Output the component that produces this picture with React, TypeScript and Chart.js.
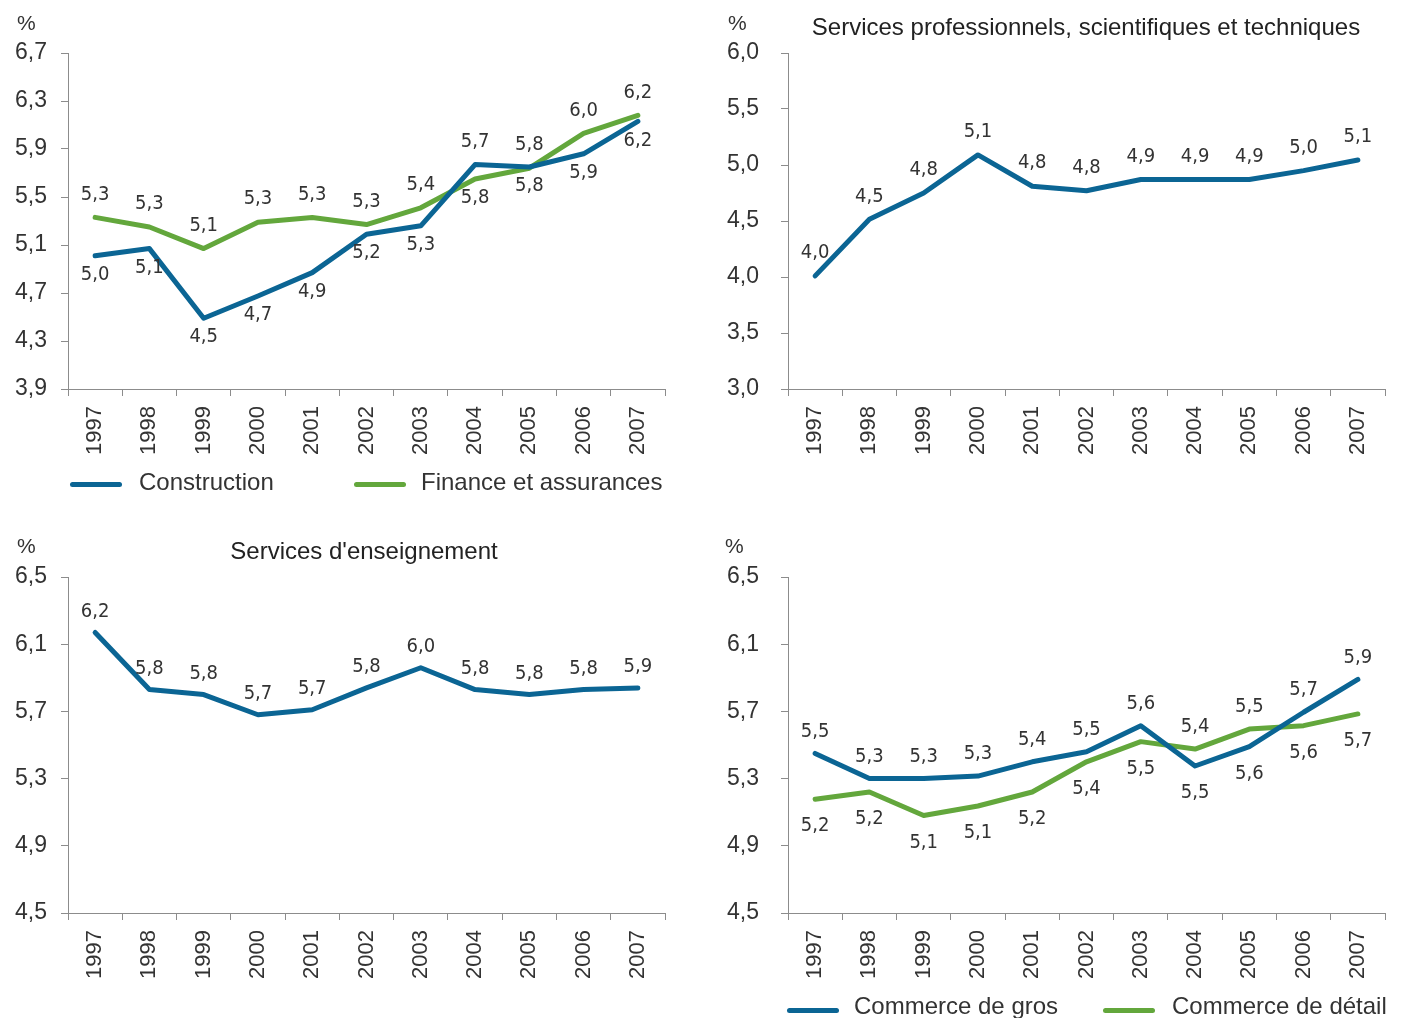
import React, { useEffect, useRef } from "react";
import { Chart, registerables } from "chart.js";

Chart.register(...registerables);

// ---------- DATA ----------
const years = ["1997", "1998", "1999", "2000", "2001", "2002", "2003", "2004", "2005", "2006", "2007"];

// Panel 1 : Construction / Finance et assurances
const constructionValues = [5.01, 5.07, 4.49, 4.675, 4.87, 5.19, 5.26, 5.77, 5.75, 5.86, 6.13];
const constructionLabels = ["5,0", "5,1", "4,5", "4,7", "4,9", "5,2", "5,3", "5,7", "5,8", "5,9", "6,2"];
const constructionPlacement = ["b", "b", "b", "b", "b", "b", "b", "a", "b", "b", "b"];
const financeValues = [5.33, 5.25, 5.07, 5.29, 5.33, 5.27, 5.41, 5.65, 5.74, 6.03, 6.18];
const financeLabels = ["5,3", "5,3", "5,1", "5,3", "5,3", "5,3", "5,4", "5,8", "5,8", "6,0", "6,2"];
const financePlacement = ["a", "a", "a", "a", "a", "a", "a", "b", "a", "a", "a"];
const ticksPanel1 = [3.9, 4.3, 4.7, 5.1, 5.5, 5.9, 6.3, 6.7];

// Panel 2 : Services professionnels, scientifiques et techniques
const proValues = [4.01, 4.515, 4.75, 5.09, 4.81, 4.77, 4.87, 4.87, 4.87, 4.95, 5.045];
const proLabels = ["4,0", "4,5", "4,8", "5,1", "4,8", "4,8", "4,9", "4,9", "4,9", "5,0", "5,1"];
const ticksPanel2 = [3.0, 3.5, 4.0, 4.5, 5.0, 5.5, 6.0];

// Panel 3 : Services d'enseignement
const educValues = [6.17, 5.83, 5.8, 5.68, 5.71, 5.84, 5.96, 5.83, 5.8, 5.83, 5.84];
const educLabels = ["6,2", "5,8", "5,8", "5,7", "5,7", "5,8", "6,0", "5,8", "5,8", "5,8", "5,9"];
const ticksPanel3 = [4.5, 4.9, 5.3, 5.7, 6.1, 6.5];

// Panel 4 : Commerce de gros / Commerce de détail
const grosValues = [5.45, 5.3, 5.3, 5.315, 5.4, 5.46, 5.615, 5.375, 5.49, 5.695, 5.89];
const grosLabels = ["5,5", "5,3", "5,3", "5,3", "5,4", "5,5", "5,6", "5,5", "5,6", "5,7", "5,9"];
const grosPlacement = ["a", "a", "a", "a", "a", "a", "a", "b", "b", "a", "a"];
const detailValues = [5.177, 5.22, 5.08, 5.137, 5.22, 5.4, 5.52, 5.476, 5.595, 5.615, 5.685];
const detailLabels = ["5,2", "5,2", "5,1", "5,1", "5,2", "5,4", "5,5", "5,4", "5,5", "5,6", "5,7"];
const detailPlacement = ["b", "b", "b", "b", "b", "b", "b", "a", "a", "b", "b"];
const ticksPanel4 = [4.5, 4.9, 5.3, 5.7, 6.1, 6.5];

// ---------- STYLE ----------
const BLUE = "#0b6594";
const GREEN = "#63a73c";
const AXIS = "#8c8c8c";
const TEXT = "#333333";
const FONT = '"Liberation Sans", Arial, Helvetica, sans-serif';
const NARROW = '"Liberation Sans Narrow", "DejaVu Sans Condensed", "Liberation Sans", sans-serif';

const valueLabelPlugin = {
  id: "valueLabels",
  afterDatasetsDraw(chart: any, _args: any, opts: any) {
    const ctx = chart.ctx;
    ctx.save();
    ctx.font = opts.font;
    ctx.fillStyle = opts.color;
    ctx.textAlign = "center";
    ctx.textBaseline = "middle";
    chart.data.datasets.forEach((ds: any, i: number) => {
      const meta = chart.getDatasetMeta(i);
      meta.data.forEach((pt: any, j: number) => {
        const txt = ds.labelTexts ? ds.labelTexts[j] : null;
        if (!txt) return;
        const pos = ds.labelPos ? ds.labelPos[j] : "a";
        const dy = pos === "a" ? -opts.above : opts.below;
        ctx.fillText(txt, pt.x, pt.y + dy);
      });
    });
    ctx.restore();
  },
};

const fmt = (v: number) => v.toFixed(1).replace(".", ",");

function series(values: number[], color: string, texts: string[], placement?: string[]) {
  return {
    data: values,
    borderColor: color,
    backgroundColor: color,
    borderWidth: 5,
    pointRadius: 0,
    tension: 0,
    borderCapStyle: "round",
    borderJoinStyle: "round",
    labelTexts: texts,
    labelPos: placement,
  };
}

const PAD_TOP = 40;

function makeConfig(p: any) {
  return {
    type: "line",
    data: { labels: years, datasets: p.datasets },
    options: {
      animation: false,
      responsive: false,
      layout: { padding: { top: PAD_TOP, right: p.padRight, left: 0, bottom: 0 } },
      plugins: {
        legend: { display: false },
        tooltip: { enabled: false },
        valueLabels: {
          above: p.above,
          below: p.below,
          font: "20px " + NARROW,
          color: TEXT,
        },
      },
      scales: {
        x: {
          type: "category",
          offset: true,
          grid: {
            offset: true,
            drawOnChartArea: false,
            drawTicks: true,
            tickLength: 7,
            color: AXIS,
            lineWidth: 1,
          },
          border: { display: true, color: AXIS, width: 1 },
          ticks: {
            autoSkip: false,
            minRotation: 90,
            maxRotation: 90,
            padding: 10,
            color: TEXT,
            font: { family: FONT, size: 22 },
          },
          afterFit: (s: any) => {
            s.height = p.xHeight;
          },
        },
        y: {
          type: "linear",
          min: p.ticks[0],
          max: p.ticks[p.ticks.length - 1],
          grid: {
            drawOnChartArea: false,
            drawTicks: true,
            tickLength: 7,
            color: AXIS,
            lineWidth: 1,
          },
          border: { display: true, color: AXIS, width: 1 },
          ticks: {
            padding: p.yPad,
            color: TEXT,
            font: { family: FONT, size: 23 },
            callback: (v: number) => fmt(v),
          },
          afterBuildTicks: (s: any) => {
            s.ticks = p.ticks.map((v: number) => ({ value: v }));
          },
          afterFit: (s: any) => {
            s.width = p.yWidth;
          },
        },
      },
    },
    plugins: [valueLabelPlugin],
  };
}

function Panel({ box, config }: { box: any; config: any }) {
  const ref = useRef<HTMLCanvasElement | null>(null);
  useEffect(() => {
    const chart = new Chart(ref.current as HTMLCanvasElement, config);
    return () => chart.destroy();
  }, []);
  return (
    <canvas
      ref={ref}
      width={box.width}
      height={box.height}
      style={{ position: "absolute", left: box.left, top: box.top, width: box.width, height: box.height }}
    />
  );
}

function Txt({ x, cy, size, children, color = TEXT, center = false, w = 0 }: any) {
  const lh = Math.round(size * 1.2);
  const style: any = {
    position: "absolute",
    top: cy - lh / 2,
    fontFamily: FONT,
    fontSize: size,
    lineHeight: lh + "px",
    color,
    whiteSpace: "nowrap",
  };
  if (center) {
    style.left = x - w / 2;
    style.width = w;
    style.textAlign = "center";
  } else {
    style.left = x;
  }
  return <div style={style}>{children}</div>;
}

function Marker({ x, cy, color }: any) {
  return (
    <div
      style={{
        position: "absolute",
        left: x,
        top: cy - 2.5,
        width: 52,
        height: 5,
        borderRadius: 3,
        background: color,
      }}
    />
  );
}

export default function App() {
  // chart areas: top rows y 53..389, bottom rows y 577..913
  const c1 = makeConfig({
    datasets: [
      series(constructionValues, BLUE, constructionLabels, constructionPlacement),
      series(financeValues, GREEN, financeLabels, financePlacement),
    ],
    ticks: ticksPanel1,
    padRight: 35,
    yWidth: 68,
    xHeight: 81,
    yPad: 14,
    above: 23,
    below: 19,
  });
  const c2 = makeConfig({
    datasets: [series(proValues, BLUE, proLabels)],
    ticks: ticksPanel2,
    padRight: 18,
    yWidth: 88,
    xHeight: 81,
    yPad: 22,
    above: 23,
    below: 19,
  });
  const c3 = makeConfig({
    datasets: [series(educValues, BLUE, educLabels)],
    ticks: ticksPanel3,
    padRight: 35,
    yWidth: 68,
    xHeight: 82,
    yPad: 14,
    above: 21,
    below: 27,
  });
  const c4 = makeConfig({
    datasets: [
      series(grosValues, BLUE, grosLabels, grosPlacement),
      series(detailValues, GREEN, detailLabels, detailPlacement),
    ],
    ticks: ticksPanel4,
    padRight: 18,
    yWidth: 88,
    xHeight: 82,
    yPad: 22,
    above: 22,
    below: 27,
  });

  const topRow = 53 - PAD_TOP;
  const botRow = 577 - PAD_TOP;

  return (
    <div
      style={{
        position: "absolute",
        left: 0,
        top: 0,
        width: 1403,
        height: 1018,
        background: "#ffffff",
        overflow: "hidden",
      }}
    >
      <Panel box={{ left: 0, top: topRow, width: 700, height: 389 - topRow + 81 }} config={c1} />
      <Panel box={{ left: 700, top: topRow, width: 703, height: 389 - topRow + 81 }} config={c2} />
      <Panel box={{ left: 0, top: botRow, width: 700, height: 913 - botRow + 82 }} config={c3} />
      <Panel box={{ left: 700, top: botRow, width: 703, height: 913 - botRow + 82 }} config={c4} />

      <Txt x={17} cy={22} size={21}>%</Txt>
      <Txt x={728} cy={22} size={21}>%</Txt>
      <Txt x={17} cy={545} size={21}>%</Txt>
      <Txt x={725} cy={545} size={21}>%</Txt>

      <Txt x={1086} cy={26} size={24} center w={800} color="#222">
        Services professionnels, scientifiques et techniques
      </Txt>
      <Txt x={364} cy={550} size={24} center w={500} color="#222">
        Services d'enseignement
      </Txt>

      <Marker x={70} cy={484} color={BLUE} />
      <Txt x={139} cy={481} size={24}>Construction</Txt>
      <Marker x={354} cy={484} color={GREEN} />
      <Txt x={421} cy={481} size={24}>Finance et assurances</Txt>

      <Marker x={787} cy={1010} color={BLUE} />
      <Txt x={854} cy={1005} size={24}>Commerce de gros</Txt>
      <Marker x={1103} cy={1010} color={GREEN} />
      <Txt x={1172} cy={1005} size={24}>Commerce de détail</Txt>
    </div>
  );
}
